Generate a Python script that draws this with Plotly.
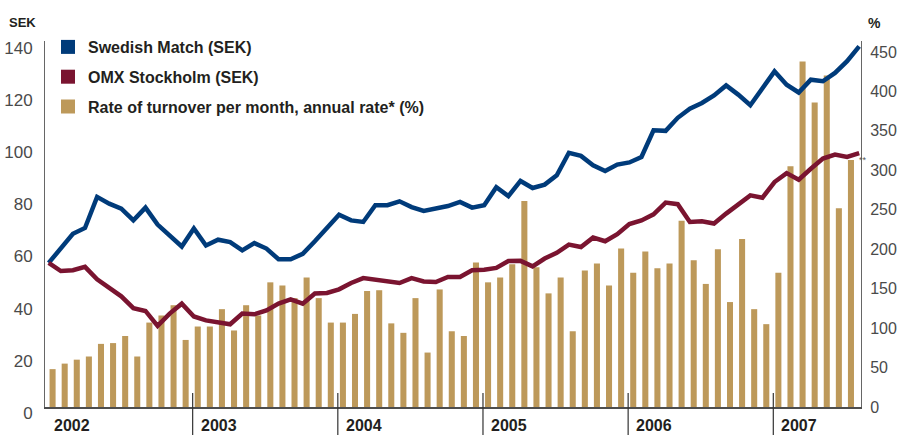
import plotly.graph_objects as go

# ---------------- data ----------------
years = [2002, 2003, 2004, 2005, 2006, 2007]

# month-start values Jan 2002 ... Aug 2007 (SEK)
swedish_match = [
    55.2, 60.7, 66.4, 68.6, 80.5, 77.9, 76.0, 71.5, 76.4, 69.9, 65.8, 61.5,
    68.4, 61.9, 64.1, 63.2, 60.0, 62.8, 60.7, 56.6, 56.6, 58.7, 63.5, 68.4,
    73.7, 71.5, 70.9, 77.3, 77.3, 78.8, 76.6, 75.1, 76.2, 77.0, 78.6, 76.4,
    77.3, 84.2, 80.8, 86.6, 83.9, 85.2, 88.8, 97.4, 96.2, 92.6, 90.4, 92.9,
    93.7, 95.8, 106.0, 105.8, 110.8, 114.3, 116.5, 119.4, 123.2, 119.7, 115.6, 122.0,
    128.6, 123.5, 120.5, 125.4, 124.8, 128.0, 132.5, 138.2,
]
omx_stockholm = [
    55.2, 52.1, 52.4, 53.7, 48.9, 45.7, 42.4, 37.9, 36.8, 31.1, 35.8, 39.6,
    34.7, 33.2, 32.5, 31.7, 35.8, 35.5, 37.0, 39.6, 41.2, 39.6, 43.5, 43.7,
    45.1, 47.5, 49.4, 48.8, 48.5, 47.5, 49.4, 48.1, 47.9, 49.8, 49.8, 52.4,
    52.6, 53.3, 55.9, 56.0, 53.9, 56.9, 59.1, 62.2, 61.3, 64.9, 63.5, 66.2,
    70.1, 71.5, 73.8, 78.3, 77.7, 70.9, 71.2, 70.3, 74.1, 77.7, 81.1, 80.2,
    86.2, 89.6, 87.1, 91.3, 95.2, 96.7, 95.8, 97.3,
]
# monthly turnover, annual rate (%), Jan 2002 ... Jul 2007
turnover = [
    48, 55, 60, 64, 80, 81, 90, 64, 107, 116, 129, 85,
    102, 102, 124, 97, 129, 116, 158, 154, 138, 164, 138, 107,
    107, 118, 147, 148, 106, 94, 138, 69, 149, 96, 90, 183,
    158, 164, 181, 261, 177, 144, 164, 96, 173, 182, 154, 201,
    170, 197, 176, 182, 236, 186, 156, 200, 133, 213, 124, 105,
    170, 305, 438, 386, 420, 252, 313,
]
sek_ticks = [0, 20, 40, 60, 80, 100, 120, 140]
pct_ticks = [0, 50, 100, 150, 200, 250, 300, 350, 400, 450]

names = ["Swedish Match (SEK)", "OMX Stockholm (SEK)",
         "Rate of turnover per month, annual rate* (%)"]

# ---------------- style ----------------
BLUE = "#003b7a"
RED = "#7a1430"
GOLD = "#bd995a"
TXT = "#231f20"
TICK = "#4a4a4a"
FONT = "Liberation Sans, Arial, sans-serif"

bar_x = [i + 0.42 for i in range(len(turnover))]
line_x = [i + 0.1 for i in range(len(swedish_match))]

fig = go.Figure()

# legend-only entries (square swatches)
for name, col in zip(names, [BLUE, RED, GOLD]):
    fig.add_trace(go.Scatter(
        x=[None], y=[None], mode="markers", name=name, legendgroup=name,
        marker=dict(symbol="square", size=14, color=col), yaxis="y",
        showlegend=True, hoverinfo="skip"))

fig.add_trace(go.Bar(
    x=bar_x, y=turnover, width=0.5, marker=dict(color=GOLD, line=dict(width=0)),
    yaxis="y", showlegend=False, name=names[2]))

fig.add_trace(go.Scatter(
    x=line_x, y=swedish_match, mode="lines", yaxis="y2", showlegend=False,
    line=dict(color=BLUE, width=4.5), name=names[0]))
fig.add_trace(go.Scatter(
    x=line_x, y=omx_stockholm, mode="lines", yaxis="y2", showlegend=False,
    line=dict(color=RED, width=4.5), name=names[1]))

# plot area: left 45, right 861, top ~41, bottom ~407 (px)
L, R, T, B = 45, 37, 41, 28
W, H = 898, 435
pw = W - L - R
ph = H - T - B

def px_x(px):
    return (px - L) / pw

def px_y(py):
    return (H - B - py) / ph

annotations = []
for k, yr in enumerate(years):
    annotations.append(dict(
        x=12 * k, xref="x", y=0, yref="paper", text=str(yr), showarrow=False,
        xanchor="left", yanchor="top", xshift=4 if k == 0 else 6, yshift=-8,
        font=dict(family=FONT, size=16, color=TXT, weight="bold")))
annotations.append(dict(
    x=px_x(7), xref="paper", y=px_y(22.5), yref="paper", text="SEK",
    showarrow=False, xanchor="left", yanchor="middle",
    font=dict(family=FONT, size=13, color=TXT, weight="bold")))
annotations.append(dict(
    x=px_x(866), xref="paper", y=px_y(22.5), yref="paper", text="%",
    showarrow=False, xanchor="left", yanchor="middle",
    font=dict(family=FONT, size=14, color=TXT, weight="bold")))
annotations.append(dict(
    x=bar_x[-1], xref="x", y=turnover[-1], yref="y", text="**",
    showarrow=False, xanchor="left", yanchor="middle", xshift=6,
    font=dict(family=FONT, size=9, color="#555555")))

shapes = []
for k in range(1, len(years)):
    shapes.append(dict(
        type="line", xref="x", yref="paper", x0=12 * k, x1=12 * k,
        y0=px_y(435), y1=px_y(393), line=dict(color="#333333", width=1.2)))

fig.update_layout(
    width=W, height=H,
    margin=dict(l=L, r=R, t=T, b=B, pad=0, autoexpand=False),
    paper_bgcolor="white", plot_bgcolor="white",
    barmode="overlay",
    showlegend=True,
    legend=dict(
        x=px_x(48), y=px_y(30), xanchor="left", yanchor="top",
        bgcolor="rgba(0,0,0,0)", tracegroupgap=6,
        font=dict(family=FONT, size=16, color=TXT, weight="bold"),
        itemclick=False, itemdoubleclick=False),
    xaxis=dict(
        range=[-0.207, 67.25], showgrid=False, zeroline=False,
        showticklabels=False, ticks="", showline=True, automargin=False,
        linecolor="#4d4d4d", linewidth=2, fixedrange=True),
    yaxis=dict(
        side="right", range=[0, ph / 0.789], tickvals=pct_ticks,
        showgrid=False, zeroline=False, showline=True, linecolor="#666666",
        linewidth=1, ticks="", ticklabelstandoff=5, automargin=False,
        tickfont=dict(family=FONT, size=16, color=TICK), fixedrange=True),
    yaxis2=dict(
        side="left", overlaying="y", range=[0, ph / 2.61], tickvals=sek_ticks,
        showgrid=False, zeroline=False, showline=True, linecolor="#666666",
        linewidth=1, ticks="", ticklabelshift=6, ticklabelstandoff=8,
        automargin=False,
        tickfont=dict(family=FONT, size=17, color=TICK), fixedrange=True),
    annotations=annotations,
    shapes=shapes,
)

fig.write_html("out.html", config={"displayModeBar": False},
               post_script="document.body.style.margin='0';")
